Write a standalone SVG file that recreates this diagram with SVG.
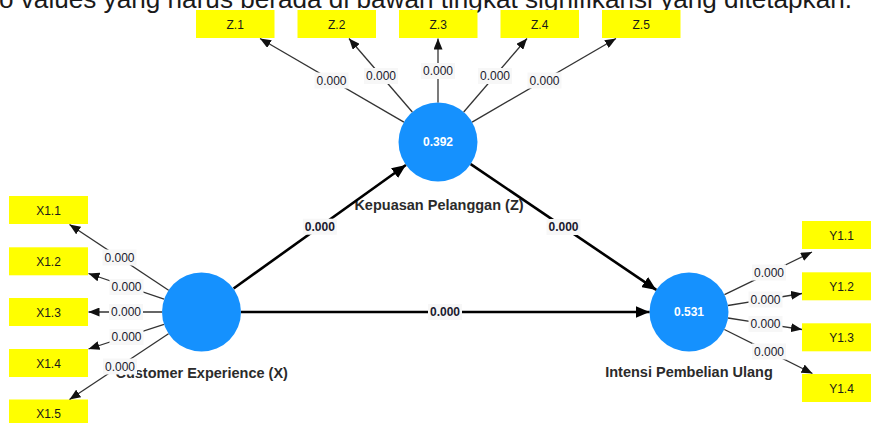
<svg xmlns="http://www.w3.org/2000/svg" width="871" height="423" viewBox="0 0 871 423">
  <style>
    .ind rect { fill: #ffff00; }
    .ind text { font-family: "Liberation Sans", Arial, sans-serif; font-size: 12px; fill: #1a1a1a; text-anchor: middle; }
    .lat circle { fill: #1591fe; }
    .lat .val { font-family: "Liberation Sans", Arial, sans-serif; font-size: 12px; font-weight: bold; fill: #ffffff; text-anchor: middle; }
    .lat .name { font-family: "Liberation Sans", Arial, sans-serif; font-size: 14.5px; font-weight: bold; fill: #2b2b2b; text-anchor: middle; }
    .out { stroke: #333333; stroke-width: 1.3; fill: none; marker-end: url(#arrS); }
    .str { stroke: #000000; stroke-width: 2.6; fill: none; marker-end: url(#arrL); }
    .lbl rect { fill: #f7f7f7; }
    .lbl text { font-family: "Liberation Sans", Arial, sans-serif; font-size: 12px; fill: #1a1a2e; text-anchor: middle; }
    .lbl.b text { font-weight: bold; }
    .cap { font-family: "Liberation Sans", Arial, sans-serif; font-size: 26px; fill: #1a1a1a; }
  </style>
  <defs>
    <marker id="arrS" markerUnits="userSpaceOnUse" markerWidth="11" markerHeight="9" refX="11" refY="4.5" orient="auto">
      <path d="M0,0 L11,4.5 L0,9 z" fill="#111111"/>
    </marker>
    <marker id="arrL" markerUnits="userSpaceOnUse" markerWidth="14" markerHeight="12" refX="14" refY="6" orient="auto">
      <path d="M0,0 L14,6 L0,12 z" fill="#000000"/>
    </marker>
  </defs>
  <rect width="871" height="423" fill="#ffffff"/>
  <text class="cap" x="-1" y="7.5" textLength="853" lengthAdjust="spacingAndGlyphs">o values yang harus berada di bawah tingkat signifikansi yang ditetapkan.</text>

  <g id="Z1" class="ind"><rect x="196" y="10" width="78.5" height="28"/><text x="235.2" y="28.5">Z.1</text></g>
  <g id="Z2" class="ind"><rect x="297.5" y="10" width="78.5" height="28"/><text x="336.7" y="28.5">Z.2</text></g>
  <g id="Z3" class="ind"><rect x="399" y="10" width="78.5" height="28"/><text x="438.2" y="28.5">Z.3</text></g>
  <g id="Z4" class="ind"><rect x="500.5" y="10" width="78.5" height="28"/><text x="539.7" y="28.5">Z.4</text></g>
  <g id="Z5" class="ind"><rect x="602" y="10" width="78.5" height="28"/><text x="641.2" y="28.5">Z.5</text></g>

  <g id="X1_1" class="ind"><rect x="9" y="196" width="79" height="28"/><text x="48.5" y="214.5">X1.1</text></g>
  <g id="X1_2" class="ind"><rect x="9" y="247.3" width="79" height="28"/><text x="48.5" y="265.8">X1.2</text></g>
  <g id="X1_3" class="ind"><rect x="9" y="298" width="79" height="28"/><text x="48.5" y="316.5">X1.3</text></g>
  <g id="X1_4" class="ind"><rect x="9" y="349" width="79" height="28"/><text x="48.5" y="367.5">X1.4</text></g>
  <g id="X1_5" class="ind"><rect x="9" y="399.5" width="79" height="28"/><text x="48.5" y="418">X1.5</text></g>

  <g id="Y1_1" class="ind"><rect x="802" y="221" width="79" height="28"/><text x="841.5" y="239.5">Y1.1</text></g>
  <g id="Y1_2" class="ind"><rect x="802" y="272.3" width="79" height="28"/><text x="841.5" y="290.8">Y1.2</text></g>
  <g id="Y1_3" class="ind"><rect x="802" y="323.3" width="79" height="28"/><text x="841.5" y="341.8">Y1.3</text></g>
  <g id="Y1_4" class="ind"><rect x="802" y="374" width="79" height="28"/><text x="841.5" y="392.5">Y1.4</text></g>

  <g id="Z" class="lat"><circle cx="438" cy="142" r="39.5"/><text class="val" x="438" y="146.2">0.392</text><text class="name" x="439" y="209.5">Kepuasan Pelanggan (Z)</text></g>
  <g id="X" class="lat"><circle cx="201.5" cy="312" r="39.5"/><text class="name" x="201.7" y="377.5">Customer Experience (X)</text></g>
  <g id="Y" class="lat"><circle cx="689" cy="312" r="39.5"/><text class="val" x="689" y="316.2">0.531</text><text class="name" x="689" y="376.7">Intensi Pembelian Ulang</text></g>

  <g id="connectors">
    <line class="out" x1="403.9" y1="122.1" x2="260" y2="38.5"/>
    <line class="out" x1="412.3" y1="112" x2="349" y2="38.5"/>
    <line class="out" x1="438" y1="102.5" x2="438" y2="38.5"/>
    <line class="out" x1="463.7" y1="112" x2="527" y2="38.5"/>
    <line class="out" x1="472.1" y1="122.1" x2="616" y2="38.5"/>

    <line class="out" x1="168.6" y1="290.2" x2="69.5" y2="224.5"/>
    <line class="out" x1="164.1" y1="299.2" x2="88.5" y2="273.5"/>
    <line class="out" x1="162" y1="312" x2="88.5" y2="312"/>
    <line class="out" x1="164" y1="324.3" x2="88.5" y2="349"/>
    <line class="out" x1="168.5" y1="333.8" x2="69.5" y2="399.5"/>

    <line class="out" x1="724.5" y1="294.7" x2="812" y2="252"/>
    <line class="out" x1="728" y1="305.5" x2="802" y2="293.5"/>
    <line class="out" x1="728" y1="318" x2="802" y2="329.5"/>
    <line class="out" x1="724.4" y1="329.5" x2="812.5" y2="373.5"/>

    <line class="str" x1="233.6" y1="288.5" x2="405.9" y2="165"/>
    <line class="str" x1="470.7" y1="164.1" x2="656.3" y2="289.9"/>
    <line class="str" x1="241" y1="312" x2="649.5" y2="312"/>

    <g class="lbl"><rect x="314.5" y="72.5" width="34" height="16"/><text x="331.5" y="84.7">0.000</text></g>
    <g class="lbl"><rect x="364" y="68" width="34" height="16"/><text x="381" y="80.2">0.000</text></g>
    <g class="lbl"><rect x="421" y="63" width="34" height="16"/><text x="438" y="75.2">0.000</text></g>
    <g class="lbl"><rect x="478" y="68" width="34" height="16"/><text x="495" y="80.2">0.000</text></g>
    <g class="lbl"><rect x="527.5" y="72.5" width="34" height="16"/><text x="544.5" y="84.7">0.000</text></g>

    <g class="lbl"><rect x="102.5" y="249.5" width="34" height="16"/><text x="119.5" y="261.7">0.000</text></g>
    <g class="lbl"><rect x="109.5" y="279" width="34" height="16"/><text x="126.5" y="291.2">0.000</text></g>
    <g class="lbl"><rect x="109" y="304" width="34" height="16"/><text x="126" y="316.2">0.000</text></g>
    <g class="lbl"><rect x="109.5" y="329" width="34" height="16"/><text x="126.5" y="341.2">0.000</text></g>
    <g class="lbl"><rect x="103" y="358.5" width="34" height="16"/><text x="120" y="370.7">0.000</text></g>

    <g class="lbl"><rect x="752" y="264.5" width="34" height="16"/><text x="769" y="276.7">0.000</text></g>
    <g class="lbl"><rect x="748.5" y="291.5" width="34" height="16"/><text x="765.5" y="303.7">0.000</text></g>
    <g class="lbl"><rect x="748.5" y="316" width="34" height="16"/><text x="765.5" y="328.2">0.000</text></g>
    <g class="lbl"><rect x="752" y="343.5" width="34" height="16"/><text x="769" y="355.7">0.000</text></g>

    <g class="lbl b"><rect x="302.8" y="218.7" width="34" height="16"/><text x="319.8" y="230.9">0.000</text></g>
    <g class="lbl b"><rect x="546.5" y="219" width="34" height="16"/><text x="563.5" y="231.2">0.000</text></g>
    <g class="lbl b"><rect x="428" y="304" width="34" height="16"/><text x="445" y="316.2">0.000</text></g>
  </g>
</svg>
